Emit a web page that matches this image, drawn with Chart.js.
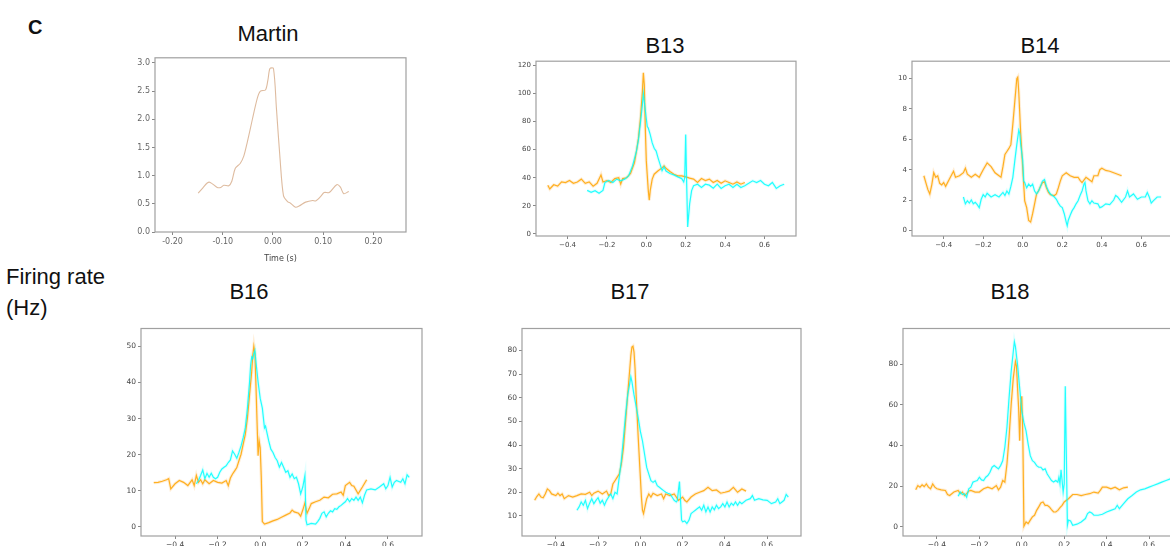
<!DOCTYPE html>
<html>
<head>
<meta charset="utf-8">
<script src="https://cdn.jsdelivr.net/npm/chart.js@4.4.1/dist/chart.umd.min.js"></script>
<style>
  body { margin: 0; width: 1170px; height: 546px; overflow: hidden; position: relative; background: #fff; }
  canvas { position: absolute; }
  .lbl { position: absolute; font-family: "Liberation Sans", Arial, sans-serif; font-size: 22px; line-height: 1; color: #111; white-space: nowrap; }
  .ctr { transform: translateX(-50%); }
</style>
</head>
<body>
<div class="lbl" style="left:28px;top:17px;font-size:20px;font-weight:bold;">C</div>
<div class="lbl ctr" style="left:268px;top:23px;">Martin</div>
<div class="lbl ctr" style="left:665px;top:35px;">B13</div>
<div class="lbl ctr" style="left:1040px;top:35px;">B14</div>
<div class="lbl" style="left:6px;top:266px;">Firing rate</div>
<div class="lbl" style="left:6px;top:297px;">(Hz)</div>
<div class="lbl ctr" style="left:249px;top:281px;">B16</div>
<div class="lbl ctr" style="left:630px;top:281px;">B17</div>
<div class="lbl ctr" style="left:1010px;top:281px;">B18</div>
<script>
// tick labels
const martinXTicks = [-0.2, -0.1, 0, 0.1, 0.2];
const martinYTicks = [0, 0.5, 1, 1.5, 2, 2.5, 3];
const bXTicks = [-0.4, -0.2, 0, 0.2, 0.4, 0.6];
const b13YTicks = [0, 20, 40, 60, 80, 100, 120];
const b14YTicks = [0, 2, 4, 6, 8, 10];
const b16YTicks = [0, 10, 20, 30, 40, 50];
const b17YTicks = [10, 20, 30, 40, 50, 60, 70, 80];
const b18YTicks = [0, 20, 40, 60, 80];

// firing rate traces, [time (s), rate]
const martin = [[-0.149,0.69],[-0.14,0.78],[-0.131,0.87],[-0.125,0.88],[-0.111,0.79],[-0.104,0.79],[-0.098,0.83],[-0.088,0.82],[-0.082,0.9],[-0.075,1.13],[-0.065,1.22],[-0.058,1.35],[-0.051,1.6],[-0.041,2.0],[-0.031,2.38],[-0.025,2.5],[-0.015,2.52],[-0.01,2.7],[-0.006,2.9],[0.001,2.9],[0.007,2.18],[0.014,1.31],[0.021,0.64],[0.029,0.54],[0.035,0.51],[0.045,0.44],[0.052,0.46],[0.065,0.53],[0.079,0.56],[0.085,0.55],[0.095,0.63],[0.102,0.7],[0.112,0.7],[0.127,0.84],[0.134,0.8],[0.141,0.68],[0.151,0.72]];

const b13Orange = [[-0.5,34.7],[-0.49,32],[-0.47,35],[-0.45,34],[-0.43,37],[-0.41,36.6],[-0.39,38],[-0.37,36],[-0.35,37],[-0.33,39],[-0.31,36],[-0.29,37],[-0.27,34],[-0.25,36],[-0.23,42],[-0.22,37],[-0.2,38],[-0.18,36.6],[-0.16,39.4],[-0.14,40],[-0.13,35.4],[-0.12,39.4],[-0.1,40],[-0.08,43],[-0.06,50.7],[-0.05,59],[-0.04,68],[-0.03,82],[-0.02,101],[-0.015,114.8],[-0.01,106],[-0.005,75],[0,52],[0.01,31],[0.015,24],[0.02,31],[0.03,39],[0.04,42.5],[0.06,45],[0.08,47],[0.09,48.4],[0.1,46.7],[0.12,44.4],[0.14,42.5],[0.16,41.3],[0.18,41.3],[0.2,40.6],[0.22,39.7],[0.24,39],[0.26,36.6],[0.28,39.4],[0.3,38],[0.32,39],[0.34,36.6],[0.36,38],[0.38,36],[0.4,37.8],[0.42,36.6],[0.44,35.4],[0.46,37],[0.48,35.4],[0.5,36.6]];
const b13Cyan = [[-0.3,31],[-0.28,29.6],[-0.26,30.8],[-0.24,29],[-0.22,31],[-0.21,36.6],[-0.19,38],[-0.17,36.6],[-0.15,39],[-0.13,37.8],[-0.11,39],[-0.09,41.3],[-0.07,48.4],[-0.05,59],[-0.04,67],[-0.03,79],[-0.02,91.8],[-0.015,100],[-0.01,94],[0,82],[0.005,76.5],[0.01,75.4],[0.02,70.7],[0.03,64.8],[0.04,61],[0.05,59],[0.06,54],[0.07,49.5],[0.08,45],[0.09,47.7],[0.1,44.8],[0.12,43],[0.14,42],[0.16,40.6],[0.18,39.4],[0.19,37],[0.195,40],[0.2,70.7],[0.205,35.4],[0.21,5],[0.22,21.4],[0.23,30.8],[0.24,34.3],[0.26,35.4],[0.28,33],[0.3,35.4],[0.32,34.7],[0.34,32.6],[0.36,35.4],[0.38,32.4],[0.4,34.3],[0.42,35.4],[0.44,33],[0.46,35.4],[0.48,33],[0.5,34.3],[0.52,36],[0.54,37.8],[0.56,36.6],[0.58,38],[0.6,35.4],[0.62,34.3],[0.64,36.6],[0.66,32.4],[0.68,34.3],[0.7,35.4]];

const b14Orange = [[-0.5,3.6],[-0.49,3.15],[-0.48,2.7],[-0.47,2.4],[-0.46,3.0],[-0.45,3.8],[-0.44,3.5],[-0.43,3.6],[-0.42,3.1],[-0.41,3.0],[-0.4,3.15],[-0.39,2.9],[-0.37,3.4],[-0.35,3.9],[-0.34,3.5],[-0.32,3.6],[-0.3,3.8],[-0.29,4.1],[-0.28,3.7],[-0.26,3.5],[-0.24,3.7],[-0.22,3.5],[-0.2,4.0],[-0.18,4.45],[-0.16,4.2],[-0.14,3.8],[-0.12,3.6],[-0.11,3.5],[-0.1,4.2],[-0.09,5.0],[-0.08,5.2],[-0.07,5.4],[-0.06,5.65],[-0.05,7.0],[-0.04,8.5],[-0.03,10.0],[-0.025,10.1],[-0.02,9.1],[-0.01,6.3],[0,4.1],[0.01,1.95],[0.02,1.5],[0.03,0.65],[0.04,0.55],[0.05,1.1],[0.06,1.75],[0.07,2.4],[0.08,2.6],[0.09,2.9],[0.1,3.15],[0.11,3.2],[0.12,2.8],[0.13,2.5],[0.14,2.35],[0.16,2.3],[0.17,2.4],[0.18,2.8],[0.19,3.25],[0.2,3.6],[0.22,3.8],[0.24,3.6],[0.26,3.5],[0.28,3.5],[0.29,3.3],[0.3,3.15],[0.32,3.5],[0.33,3.4],[0.35,3.2],[0.36,3.6],[0.38,3.6],[0.39,4.0],[0.4,4.1],[0.42,3.95],[0.44,3.9],[0.46,3.8],[0.48,3.7],[0.5,3.6]];
const b14Cyan = [[-0.3,2.2],[-0.29,1.75],[-0.28,1.95],[-0.27,1.8],[-0.26,2.0],[-0.25,1.75],[-0.24,1.85],[-0.23,1.7],[-0.22,1.5],[-0.21,2.05],[-0.2,2.35],[-0.19,2.2],[-0.18,2.45],[-0.16,2.2],[-0.14,2.35],[-0.12,2.2],[-0.1,2.5],[-0.09,2.3],[-0.08,2.6],[-0.07,2.4],[-0.06,2.9],[-0.05,3.5],[-0.04,4.6],[-0.03,5.65],[-0.02,6.6],[-0.015,6.4],[-0.01,5.65],[0,4.6],[0.005,3.25],[0.01,3.15],[0.02,2.8],[0.03,3.05],[0.04,2.9],[0.05,3.05],[0.06,2.6],[0.07,2.4],[0.08,2.6],[0.09,2.9],[0.1,3.25],[0.11,3.35],[0.12,2.9],[0.13,2.6],[0.14,2.4],[0.15,2.3],[0.16,2.2],[0.17,2.05],[0.18,1.8],[0.19,1.6],[0.2,1.5],[0.21,1.1],[0.22,0.55],[0.225,0.3],[0.23,0.65],[0.24,1.0],[0.25,1.3],[0.26,1.5],[0.27,1.75],[0.28,1.95],[0.29,2.3],[0.3,2.6],[0.31,3.05],[0.315,3.15],[0.32,2.6],[0.33,1.95],[0.34,1.75],[0.35,1.95],[0.36,1.8],[0.38,1.75],[0.39,1.5],[0.4,1.55],[0.42,1.75],[0.44,1.7],[0.46,2.0],[0.47,2.3],[0.48,2.2],[0.5,1.85],[0.52,2.2],[0.53,2.6],[0.54,2.2],[0.56,2.4],[0.58,2.05],[0.6,2.2],[0.62,2.2],[0.63,2.5],[0.64,2.2],[0.65,1.8],[0.66,1.95],[0.68,2.2],[0.7,2.2]];

const b16Orange = [[-0.5,12.2],[-0.48,12.3],[-0.46,12.6],[-0.44,13],[-0.43,13.3],[-0.42,10.5],[-0.4,11.9],[-0.38,12.8],[-0.36,12.3],[-0.34,11.4],[-0.32,13],[-0.31,11.4],[-0.3,14.2],[-0.29,12.3],[-0.28,13],[-0.27,11.9],[-0.26,13],[-0.24,11.9],[-0.22,12.8],[-0.2,12.3],[-0.18,12.1],[-0.16,12.8],[-0.15,11.4],[-0.14,13.5],[-0.13,14.6],[-0.12,15.5],[-0.11,16.4],[-0.1,18.3],[-0.09,20.1],[-0.08,22.9],[-0.07,25.6],[-0.06,30.2],[-0.05,36.6],[-0.04,43],[-0.035,47.5],[-0.03,50.1],[-0.025,48],[-0.02,39.3],[-0.015,29.3],[-0.01,19.7],[-0.005,23.8],[0,21.9],[0.005,13.7],[0.01,1.4],[0.02,0.7],[0.04,1.1],[0.06,1.6],[0.08,2.0],[0.1,2.6],[0.12,3.2],[0.14,3.8],[0.15,4.6],[0.16,4.1],[0.18,3.7],[0.19,2.9],[0.2,4.6],[0.21,6.6],[0.22,3.7],[0.23,5],[0.24,6.4],[0.26,6.9],[0.28,7.3],[0.3,8.2],[0.32,8.0],[0.34,9],[0.36,9.1],[0.38,9.6],[0.39,8.7],[0.4,11.4],[0.42,12.3],[0.43,11.4],[0.44,11.2],[0.46,9.1],[0.48,11],[0.5,13]];
const b16Cyan = [[-0.3,11.9],[-0.29,12.8],[-0.28,14.2],[-0.27,15.7],[-0.26,13.3],[-0.25,14.8],[-0.24,13.7],[-0.23,14.8],[-0.22,13.7],[-0.21,13.3],[-0.2,13.7],[-0.19,15.1],[-0.18,16],[-0.17,16.5],[-0.16,16.9],[-0.15,17.8],[-0.14,18.5],[-0.13,21],[-0.12,20.1],[-0.11,19],[-0.1,20.6],[-0.09,22.4],[-0.08,24.7],[-0.07,27.4],[-0.06,32.9],[-0.05,40.2],[-0.045,44.8],[-0.04,47.1],[-0.035,46.6],[-0.03,48],[-0.025,48.9],[-0.02,45.7],[-0.01,40.2],[0,35.6],[0.01,32.9],[0.02,27.4],[0.025,27.9],[0.03,26.5],[0.04,23.8],[0.05,21.5],[0.06,20.6],[0.07,19.2],[0.08,18.3],[0.09,16.5],[0.1,17.8],[0.11,16.5],[0.12,15.1],[0.13,15.5],[0.14,13.7],[0.15,14.6],[0.16,13.3],[0.17,13.7],[0.18,11.9],[0.19,9.1],[0.2,11],[0.21,14.2],[0.215,1.8],[0.22,0.5],[0.24,0.9],[0.26,0.7],[0.27,1.4],[0.28,2.3],[0.29,3.7],[0.3,4.1],[0.31,2.7],[0.32,3.7],[0.33,4.4],[0.34,4.1],[0.35,5],[0.36,4.8],[0.37,5.5],[0.38,5.9],[0.39,6.4],[0.4,6.9],[0.41,7.8],[0.42,6.9],[0.43,7.8],[0.44,7.3],[0.45,8.2],[0.46,7.3],[0.47,8.2],[0.48,6.6],[0.49,8.7],[0.5,10.2],[0.52,10.5],[0.54,10.2],[0.56,11],[0.58,11.9],[0.59,10.5],[0.6,11.4],[0.61,13.7],[0.62,11],[0.63,12.3],[0.64,12.8],[0.66,12.3],[0.67,13.3],[0.68,11.9],[0.69,14.4],[0.7,13.7]];

const b17Orange = [[-0.5,16.6],[-0.49,18.2],[-0.48,19.3],[-0.47,18],[-0.46,17.7],[-0.45,19.3],[-0.44,21.4],[-0.43,20.7],[-0.42,19.3],[-0.4,18.6],[-0.39,19.6],[-0.38,18.6],[-0.37,19.3],[-0.36,17.3],[-0.34,18.6],[-0.32,18],[-0.3,18.6],[-0.28,19.3],[-0.26,19.1],[-0.24,20],[-0.23,18.6],[-0.22,19.6],[-0.2,20.5],[-0.18,19.3],[-0.16,20.5],[-0.15,18.6],[-0.14,19.3],[-0.13,23.5],[-0.12,24.9],[-0.11,26.3],[-0.1,27.7],[-0.09,31.9],[-0.08,38.9],[-0.07,50],[-0.06,61.2],[-0.05,72.3],[-0.045,77.9],[-0.04,81.4],[-0.035,81.8],[-0.03,79.3],[-0.025,72.3],[-0.02,61.2],[-0.01,43],[0,26.3],[0.005,18],[0.01,12.4],[0.015,11],[0.02,13.1],[0.03,17.3],[0.04,19.3],[0.05,18],[0.06,19.6],[0.08,18.6],[0.1,19.3],[0.11,17.3],[0.12,19.3],[0.14,18.6],[0.16,19.3],[0.17,18],[0.18,16.6],[0.19,17.3],[0.2,18],[0.21,16.6],[0.22,15.9],[0.24,18],[0.26,19.3],[0.28,20],[0.3,20.7],[0.32,22.1],[0.34,20.7],[0.36,21],[0.38,19.6],[0.4,20],[0.42,20.5],[0.44,22.1],[0.46,20],[0.48,21.4],[0.5,20.5]];
const b17Cyan = [[-0.3,12.4],[-0.29,13.8],[-0.28,15.9],[-0.27,14.5],[-0.26,16.6],[-0.25,13.1],[-0.24,15.4],[-0.23,17.3],[-0.22,15.2],[-0.21,16.6],[-0.2,17.7],[-0.19,15.4],[-0.18,16.6],[-0.17,14.5],[-0.16,16.6],[-0.15,18],[-0.14,19.3],[-0.13,17.3],[-0.12,20],[-0.11,19.3],[-0.1,26.3],[-0.09,33.3],[-0.08,43],[-0.07,52.8],[-0.06,61.2],[-0.05,66.1],[-0.045,68.9],[-0.04,66.8],[-0.035,64],[-0.03,61.2],[-0.02,56.3],[-0.01,51.4],[0,45.8],[0.01,41.7],[0.02,36.1],[0.03,30.5],[0.04,27.7],[0.05,24.9],[0.06,24.2],[0.07,24.9],[0.08,22.8],[0.09,22.1],[0.1,21.4],[0.11,20.7],[0.12,20],[0.13,19.6],[0.14,19.3],[0.15,18],[0.16,16.6],[0.17,15.9],[0.175,16.6],[0.18,20.7],[0.185,24.5],[0.19,16.6],[0.195,8.2],[0.2,7.5],[0.21,7.9],[0.22,6.8],[0.23,8.2],[0.24,11],[0.25,11.7],[0.26,12.4],[0.27,13.1],[0.28,13.8],[0.29,12.4],[0.3,14.5],[0.31,11.7],[0.32,13.8],[0.33,11.7],[0.34,13.8],[0.35,12.6],[0.36,14.5],[0.37,13.1],[0.38,13.8],[0.39,15.2],[0.4,13.8],[0.41,15.9],[0.42,13.8],[0.43,15.4],[0.44,14.5],[0.45,15.9],[0.46,14.5],[0.47,15.9],[0.48,15.2],[0.5,16.6],[0.52,17.3],[0.53,18.6],[0.54,16.6],[0.56,17.3],[0.58,16.8],[0.6,16.6],[0.62,15.2],[0.64,15.9],[0.65,17.3],[0.66,15.2],[0.67,15.9],[0.68,16.6],[0.69,19.1],[0.7,18]];

const b18Orange = [[-0.5,18.2],[-0.49,20.3],[-0.48,19.5],[-0.47,20.7],[-0.46,19.8],[-0.45,21.1],[-0.44,19.5],[-0.43,18.7],[-0.42,21.1],[-0.41,19.5],[-0.4,18.7],[-0.38,18.2],[-0.36,17.9],[-0.35,15.9],[-0.34,15.4],[-0.32,17.1],[-0.3,17.9],[-0.29,16.3],[-0.28,17.1],[-0.27,15.4],[-0.26,16.3],[-0.25,17.6],[-0.24,17.9],[-0.22,17.1],[-0.2,17.1],[-0.18,18.7],[-0.16,19.5],[-0.14,18.7],[-0.12,20.3],[-0.11,18.2],[-0.1,19.5],[-0.09,22.8],[-0.08,22],[-0.07,30.9],[-0.06,43.9],[-0.05,60.2],[-0.04,73.2],[-0.03,81.3],[-0.025,78.9],[-0.02,68.3],[-0.015,58.5],[-0.01,42.3],[-0.005,60.2],[0,64.2],[0.005,43.9],[0.01,0.3],[0.02,2.4],[0.03,1.6],[0.04,3.3],[0.05,4.9],[0.06,5.7],[0.07,8.1],[0.08,9.8],[0.09,11.7],[0.1,12.2],[0.11,10.6],[0.12,10.6],[0.13,9.8],[0.14,8.5],[0.15,7.3],[0.16,7.3],[0.17,8.1],[0.18,9.4],[0.19,10.6],[0.2,12.2],[0.22,13.8],[0.24,15.9],[0.26,15.9],[0.28,15.4],[0.3,15.9],[0.32,16.3],[0.34,17.1],[0.36,16.6],[0.37,17.9],[0.38,19.5],[0.4,19.5],[0.42,18.7],[0.44,19.5],[0.46,18.2],[0.48,19.2],[0.5,19.5]];
const b18Cyan = [[-0.3,15],[-0.29,17.1],[-0.28,15.9],[-0.27,16.3],[-0.26,14.6],[-0.25,18.7],[-0.24,19.5],[-0.23,22],[-0.22,22.4],[-0.21,22.8],[-0.2,24.4],[-0.19,23.1],[-0.18,22.8],[-0.17,24.4],[-0.16,25.2],[-0.15,26.8],[-0.14,29.3],[-0.13,30.1],[-0.12,29.3],[-0.11,28.5],[-0.1,30.1],[-0.09,32.5],[-0.08,39],[-0.07,48.8],[-0.06,63.4],[-0.05,76.4],[-0.04,86.2],[-0.035,91],[-0.03,88.6],[-0.02,79.7],[-0.01,68.3],[0,56.9],[0.01,51.2],[0.02,47.2],[0.03,40.7],[0.04,35],[0.05,32.5],[0.06,31.7],[0.07,30.1],[0.08,29.3],[0.09,29.3],[0.1,28],[0.11,28.5],[0.12,26],[0.13,24.4],[0.14,22.8],[0.15,22],[0.16,22.8],[0.17,22],[0.175,24.4],[0.18,21.1],[0.185,28],[0.19,22.8],[0.195,17.1],[0.2,21.1],[0.205,69.1],[0.21,35.8],[0.215,0.8],[0.22,3.3],[0.23,2.9],[0.24,0.8],[0.26,1.3],[0.28,2.4],[0.3,4.1],[0.31,6.5],[0.32,7.3],[0.33,6.8],[0.34,5.7],[0.36,5.7],[0.38,6.2],[0.4,7.3],[0.42,8.1],[0.44,8.9],[0.45,10.6],[0.46,8.9],[0.48,11.4],[0.5,13.8],[0.52,15.4],[0.54,17.1],[0.56,18.2],[0.58,18.7],[0.6,19.5],[0.62,20.3],[0.64,21.1],[0.66,22],[0.68,22.8],[0.7,23.6]];

const ORANGE = 'rgba(255,165,0,0.85)';
const ORANGE_BAND = 'rgba(255,195,110,0.28)';
const CYAN = 'rgba(0,255,255,0.85)';
const CYAN_BAND = 'rgba(150,255,255,0.28)';

// grey box round the plot area, like matplotlib spines
const framePlugin = {
    id: 'frame',
    afterDatasetsDraw(chart) {
        const a = chart.chartArea;
        const ctx = chart.ctx;
        ctx.save();
        ctx.strokeStyle = '#a0a0a0';
        ctx.lineWidth = 1.2;
        ctx.strokeRect(a.left, a.top, a.right - a.left, a.bottom - a.top);
        ctx.restore();
    }
};

const pts = arr => arr.map(p => ({ x: p[0], y: p[1] }));
const minus = s => s.replace('-', '\u2212');

function panel(cfg) {
    const [l, t, r, b] = cfg.box;
    const yW = 36, padT = 4, padR = 4;
    const xH = cfg.xTitle ? 32 : 18;
    const canvas = document.createElement('canvas');
    canvas.width = r - l + yW + padR;
    canvas.height = b - t + padT + xH;
    canvas.style.left = (l - yW) + 'px';
    canvas.style.top = (t - padT) + 'px';
    document.body.appendChild(canvas);

    const font = { family: 'DejaVu Sans', size: cfg.fontSize };
    const tickGrid = { display: true, drawOnChartArea: false, drawTicks: true, tickLength: 3, color: '#888' };

    const datasets = [];
    cfg.lines.forEach(s => datasets.push({ data: pts(s.data), borderColor: s.color, borderWidth: s.width || 1.2, pointRadius: 0, tension: s.tension || 0 }));
    cfg.lines.forEach(s => { if (s.band) datasets.push({ data: pts(s.data), borderColor: s.band, borderWidth: 3.2, pointRadius: 0, tension: 0 }); });

    new Chart(canvas.getContext('2d'), {
        type: 'line',
        data: { datasets: datasets },
        options: {
            responsive: false,
            animation: false,
            devicePixelRatio: 1,
            layout: { padding: { top: padT, right: padR, left: 0, bottom: 0 } },
            plugins: { legend: { display: false }, tooltip: { enabled: false } },
            scales: {
                x: {
                    type: 'linear', min: cfg.x[0], max: cfg.x[1],
                    afterBuildTicks: s => { s.ticks = cfg.xTicks.map(v => ({ value: v })); },
                    afterFit: s => { s.height = xH; },
                    grid: tickGrid,
                    border: { display: false },
                    ticks: { font: font, color: cfg.tickColor, padding: 2, maxRotation: 0, autoSkip: false, callback: cfg.xFmt },
                    title: { display: !!cfg.xTitle, text: cfg.xTitle, font: { family: 'DejaVu Sans', size: 8 }, color: '#444', padding: { top: 1, bottom: 0 } }
                },
                y: {
                    min: cfg.y[0], max: cfg.y[1],
                    afterBuildTicks: s => { s.ticks = cfg.yTicks.map(v => ({ value: v })); },
                    afterFit: s => { s.width = yW; },
                    grid: tickGrid,
                    border: { display: false },
                    ticks: { font: font, color: cfg.tickColor, padding: 2, autoSkip: false, callback: cfg.yFmt }
                }
            }
        },
        plugins: [framePlugin]
    });
}

const bX = v => minus(v.toFixed(1));
const intY = v => String(v);
const orangeCyan = (o, c) => [
    { data: c, color: CYAN, band: CYAN_BAND },
    { data: o, color: ORANGE, band: ORANGE_BAND }
];

panel({ box: [155, 55, 406, 232], x: [-0.235, 0.265], y: [0, 3.09], xTicks: martinXTicks, yTicks: martinYTicks,
    fontSize: 8, tickColor: '#666', xTitle: 'Time (s)', xFmt: v => v.toFixed(2), yFmt: v => v.toFixed(1),
    lines: [{ data: martin, color: 'rgba(214,170,135,0.8)', width: 1.1, tension: 0.3 }] });

panel({ box: [536, 59, 796, 236], x: [-0.56, 0.76], y: [-1.5, 123], xTicks: bXTicks, yTicks: b13YTicks,
    fontSize: 7, tickColor: '#444', xFmt: bX, yFmt: intY, lines: orangeCyan(b13Orange, b13Cyan) });

panel({ box: [912, 59, 1173, 236], x: [-0.56, 0.76], y: [-0.37, 11.15], xTicks: bXTicks, yTicks: b14YTicks,
    fontSize: 7, tickColor: '#444', xFmt: bX, yFmt: intY, lines: orangeCyan(b14Orange, b14Cyan) });

panel({ box: [141, 326, 422, 536], x: [-0.56, 0.76], y: [-2.6, 55], xTicks: bXTicks, yTicks: b16YTicks,
    fontSize: 7.5, tickColor: '#444', xFmt: bX, yFmt: intY, lines: orangeCyan(b16Orange, b16Cyan) });

panel({ box: [522, 326, 801, 536], x: [-0.56, 0.76], y: [1.5, 89.3], xTicks: bXTicks, yTicks: b17YTicks,
    fontSize: 7.5, tickColor: '#444', xFmt: bX, yFmt: intY, lines: orangeCyan(b17Orange, b17Cyan) });

panel({ box: [903, 326, 1183, 536], x: [-0.56, 0.76], y: [-4.5, 97.5], xTicks: bXTicks, yTicks: b18YTicks,
    fontSize: 7.5, tickColor: '#444', xFmt: bX, yFmt: intY, lines: orangeCyan(b18Orange, b18Cyan) });
</script>
</body>
</html>
